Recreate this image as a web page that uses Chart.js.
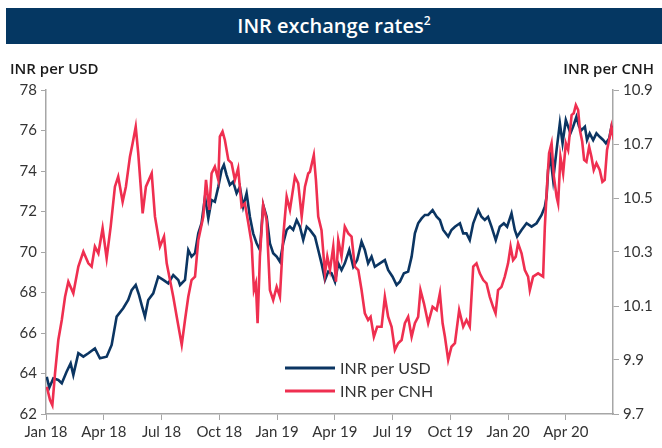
<!DOCTYPE html>
<html>
<head>
<meta charset="utf-8">
<script src="https://cdn.jsdelivr.net/npm/chart.js@4.4.1/dist/chart.umd.min.js"></script>
<style>
  body { margin: 0; background: #fff; }
  #wrap { position: relative; width: 662px; height: 448px; }
  #bar { position: absolute; left: 6px; top: 8px; width: 656px; height: 36px; background: #053762;
         color: #fff; font: 600 20px "Open Sans"; text-align: center; line-height: 36px; }
  #bar sup { font-size: 12px; vertical-align: 8px; line-height: 0; }
  .axt { position: absolute; top: 58px; font: 600 15px "Open Sans"; color: #1a1a1a; }
  canvas { position: absolute; left: 0; top: 0; }
</style>
</head>
<body>
<div id="wrap">
  <canvas id="c" width="662" height="448"></canvas>
  <div id="bar">INR exchange rates<sup>2</sup></div>
  <div class="axt" style="left:10px">INR per USD</div>
  <div class="axt" style="right:8px">INR per CNH</div>
</div>
<script>
// months since Jan 2018
var quarterLabels = ["Jan 18", "Apr 18", "Jul 18", "Oct 18", "Jan 19", "Apr 19", "Jul 19", "Oct 19", "Jan 20", "Apr 20"];
var usdTicks = [62, 64, 66, 68, 70, 72, 74, 76, 78];
var cnhTicks = [9.7, 9.9, 10.1, 10.3, 10.5, 10.7, 10.9];

var usdT = [0.04,0.17,0.38,0.64,0.82,1.07,1.28,1.42,1.68,1.94,2.20,2.54,2.80,3.15,3.41,3.67,4.01,4.27,4.45,4.66,
  4.83,4.97,5.14,5.31,5.57,5.83,6.09,6.35,6.61,6.87,6.96,7.22,7.39,7.56,7.74,7.91,8.08,8.26,8.43,8.60,
  8.77,8.95,9.12,9.24,9.38,9.55,9.72,9.90,10.07,10.24,10.42,10.59,10.76,10.94,11.11,11.28,11.46,11.63,11.80,11.98,
  12.15,12.32,12.50,12.67,12.84,13.02,13.19,13.36,13.54,13.71,13.97,14.14,14.31,14.49,14.66,14.83,15.01,15.18,15.35,15.52,
  15.75,15.96,16.16,16.39,16.56,16.73,16.91,17.08,17.34,17.60,17.77,18.00,18.21,18.38,18.59,18.81,18.99,19.16,19.33,19.51,
  19.68,19.85,20.08,20.29,20.46,20.63,20.89,21.06,21.24,21.50,21.67,21.84,22.01,22.19,22.45,22.62,22.79,22.96,23.14,23.36,
  23.57,23.78,23.95,24.18,24.35,24.47,24.70,24.96,25.22,25.48,25.74,25.91,26.00,26.08,26.20,26.34,26.52,26.69,26.83,27.00,
  27.12,27.24,27.38,27.55,27.69,27.81,27.99,28.10,28.24,28.42,28.59,28.76,28.94,29.08,29.25,29.37,29.54];
var usdV = [63.84,63.30,63.76,63.68,63.52,64.09,64.50,63.93,65.00,64.83,65.00,65.24,64.75,64.83,65.41,66.81,67.22,67.63,68.12,68.37,
  67.88,67.38,66.81,67.63,67.96,68.78,68.62,68.45,68.86,68.62,68.37,68.62,70.10,69.77,69.94,70.92,71.42,72.73,71.66,72.57,
  72.48,73.22,74.05,74.30,73.80,73.31,73.47,72.90,73.22,72.24,72.90,71.74,70.92,70.43,70.10,72.32,71.74,70.43,69.94,69.77,
  69.52,70.43,71.09,71.25,71.09,71.58,71.25,70.59,71.25,71.09,70.76,70.10,69.44,68.62,69.03,68.95,68.53,69.44,69.11,69.44,
  70.10,69.27,69.60,70.51,70.10,69.44,69.77,69.27,69.44,69.60,69.11,68.78,68.37,68.53,68.95,69.03,69.77,70.92,71.42,71.66,
  71.83,71.83,72.07,71.74,71.58,71.09,70.76,71.09,71.25,71.42,70.92,70.92,70.59,71.42,72.07,71.74,71.58,71.74,71.25,70.59,
  71.25,71.42,71.25,71.91,71.09,70.76,71.09,71.42,71.25,71.42,71.83,72.24,72.73,74.05,74.71,73.56,75.04,76.36,75.37,76.52,
  76.19,75.86,76.19,76.68,76.19,76.02,76.19,75.53,75.86,75.53,75.86,75.69,75.53,75.37,75.61,76.19,75.94];

var cnhT = [0.04,0.21,0.33,0.47,0.64,0.82,0.99,1.16,1.42,1.68,1.94,2.20,2.37,2.54,2.72,2.94,3.15,3.36,3.58,3.75,
  3.98,4.15,4.36,4.50,4.66,4.79,4.92,5.02,5.19,5.49,5.66,5.92,6.13,6.27,6.44,6.61,6.79,7.05,7.22,7.39,
  7.56,7.74,7.91,8.17,8.31,8.48,8.60,8.77,8.95,9.03,9.17,9.29,9.47,9.64,9.81,9.98,10.16,10.33,10.51,10.68,
  10.80,10.90,10.99,11.11,11.28,11.46,11.63,11.80,11.98,12.15,12.32,12.50,12.67,12.93,13.10,13.28,13.45,13.62,13.71,13.91,
  14.02,14.14,14.31,14.49,14.61,14.75,14.92,15.06,15.18,15.35,15.52,15.70,15.87,16.04,16.22,16.39,16.56,16.73,16.86,17.03,
  17.20,17.43,17.60,17.77,17.95,18.12,18.29,18.47,18.64,18.81,18.99,19.16,19.33,19.45,19.63,19.85,20.08,20.29,20.46,20.60,
  20.72,20.89,21.06,21.24,21.46,21.67,21.84,22.01,22.19,22.36,22.53,22.71,22.88,23.05,23.22,23.35,23.48,23.66,23.83,24.00,
  24.13,24.26,24.40,24.52,24.70,24.87,25.04,25.13,25.30,25.56,25.82,25.91,26.03,26.13,26.26,26.38,26.52,26.60,26.72,26.86,
  27.00,27.12,27.30,27.41,27.52,27.64,27.73,27.85,27.95,28.07,28.21,28.33,28.45,28.59,28.76,28.90,29.02,29.14,29.28,29.37,29.49];
var cnhV = [9.801,9.752,9.733,9.851,9.974,10.048,10.134,10.190,10.147,10.246,10.301,10.258,10.246,10.320,10.295,10.388,10.277,10.394,10.542,10.579,
  10.486,10.542,10.653,10.703,10.764,10.666,10.542,10.443,10.542,10.591,10.431,10.320,10.357,10.258,10.196,10.134,10.060,9.956,10.048,10.134,
  10.196,10.209,10.344,10.431,10.567,10.456,10.591,10.616,10.567,10.727,10.746,10.715,10.641,10.629,10.567,10.610,10.468,10.480,10.406,10.332,
  10.159,10.184,10.036,10.283,10.474,10.419,10.159,10.122,10.171,10.134,10.357,10.505,10.456,10.579,10.554,10.431,10.542,10.591,10.597,10.659,
  10.567,10.431,10.381,10.221,10.283,10.233,10.320,10.190,10.344,10.283,10.394,10.369,10.357,10.246,10.233,10.159,10.073,10.048,10.060,9.986,
  10.023,10.023,10.134,10.060,10.023,9.937,9.962,9.974,10.036,10.060,9.986,10.036,10.060,10.159,10.110,10.036,10.097,10.085,10.147,10.036,
  9.986,9.900,9.949,9.962,10.085,10.023,10.048,10.023,10.246,10.258,10.221,10.196,10.184,10.134,10.097,10.073,10.159,10.171,10.209,10.258,
  10.320,10.270,10.283,10.332,10.295,10.233,10.209,10.159,10.209,10.221,10.209,10.394,10.554,10.666,10.703,10.579,10.505,10.480,10.653,10.591,
  10.703,10.678,10.807,10.814,10.844,10.826,10.752,10.709,10.641,10.634,10.690,10.653,10.604,10.629,10.604,10.560,10.567,10.678,10.727,10.764,10.715];

var navy = "#0b3562";
var red = "#ef2f50";
var axisGrey = "#a6a6a6";
var tickFont = { family: "Lato", size: 15 };

function pairs(ts, vs) {
  return ts.map(function (t, i) { return { x: t, y: vs[i] }; });
}

// legend drawn inside the plot, lower middle
var innerLegend = {
  id: "innerLegend",
  afterDraw: function (chart) {
    var ctx = chart.ctx, a = chart.chartArea;
    var x0 = a.left + 239, y0 = a.top + 278;
    ctx.save();
    ctx.font = "16px Lato";
    ctx.textBaseline = "middle";
    chart.data.datasets.forEach(function (ds, i) {
      var y = y0 + i * 23;
      ctx.strokeStyle = ds.borderColor;
      ctx.lineWidth = 3;
      ctx.beginPath();
      ctx.moveTo(x0, y);
      ctx.lineTo(x0 + 50, y);
      ctx.stroke();
      ctx.fillStyle = "#333";
      ctx.fillText(ds.label, x0 + 55, y + 1);
    });
    ctx.restore();
  }
};

new Chart(document.getElementById("c"), {
  type: "line",
  data: {
    datasets: [
      { label: "INR per USD", data: pairs(usdT, usdV), yAxisID: "yL",
        borderColor: navy, borderWidth: 2.6, pointRadius: 0, tension: 0, order: 1 },
      { label: "INR per CNH", data: pairs(cnhT, cnhV), yAxisID: "yR",
        borderColor: red, borderWidth: 2.6, pointRadius: 0, tension: 0, order: 0 }
    ]
  },
  options: {
    responsive: false,
    animation: false,
    layout: { padding: { top: 90, left: 0, right: 0, bottom: 0 } },
    plugins: { legend: { display: false }, tooltip: { enabled: false } },
    scales: {
      x: {
        type: "linear", min: 0, max: 29.45,
        afterBuildTicks: function (s) {
          s.ticks = quarterLabels.map(function (l, i) { return { value: i * 3 }; });
        },
        afterFit: function (s) { s.height = 34; },
        ticks: {
          autoSkip: false, maxRotation: 0, padding: 3, color: "#333", font: tickFont,
          callback: function (v) { return quarterLabels[Math.round(v / 3)]; }
        },
        grid: { drawOnChartArea: false, tickLength: 6, color: axisGrey },
        border: { color: axisGrey, width: 1.5 }
      },
      yL: {
        position: "left", min: 62, max: 78,
        afterBuildTicks: function (s) { s.ticks = usdTicks.map(function (v) { return { value: v }; }); },
        afterFit: function (s) { s.width = 46; },
        ticks: { color: "#333", font: tickFont, padding: 4 },
        grid: { drawOnChartArea: false, tickLength: 5, color: axisGrey },
        border: { color: axisGrey, width: 1.5 }
      },
      yR: {
        position: "right", min: 9.7, max: 10.9,
        afterBuildTicks: function (s) { s.ticks = cnhTicks.map(function (v) { return { value: v }; }); },
        afterFit: function (s) { s.width = 49; },
        ticks: { color: "#333", font: tickFont, padding: 4,
          callback: function (v) { return v.toFixed(1); } },
        grid: { drawOnChartArea: false, tickLength: 6, color: axisGrey },
        border: { color: axisGrey, width: 1.5 }
      }
    }
  },
  plugins: [innerLegend]
});
</script>
</body>
</html>
